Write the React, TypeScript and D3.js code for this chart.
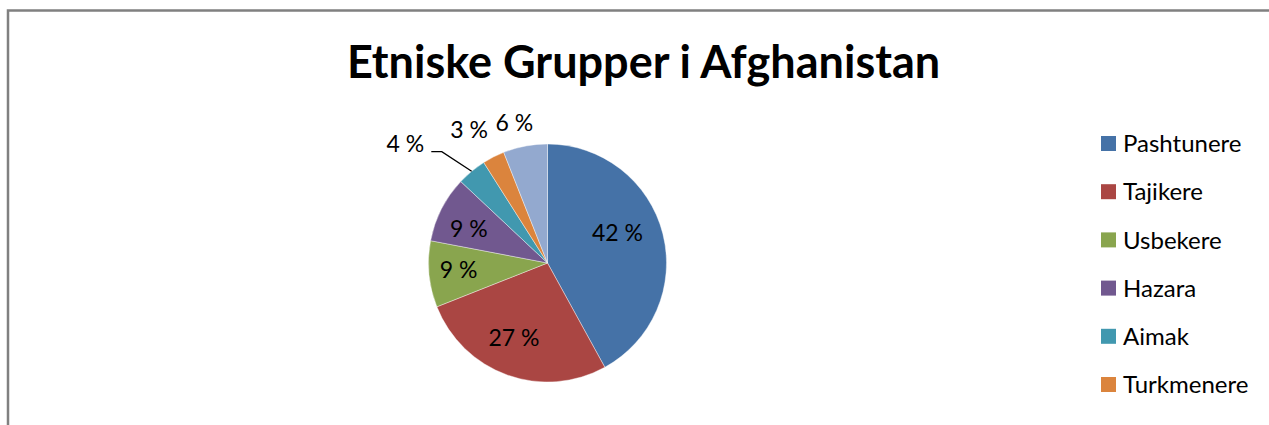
import { arc, pie } from "d3";

const groups = ["Pashtunere", "Tajikere", "Usbekere", "Hazara", "Aimak", "Turkmenere", "Andre"];
const shares = [42, 27, 9, 9, 4, 3, 6];
const colors = ["#4572A7", "#AA4643", "#89A54E", "#71588F", "#4198AF", "#DB843D", "#93A9CF"];

// label placement relative to each slice (radius factor, angle shift in degrees)
const labelRadius = [0.64, 0.69, 0.75, 0.72, 1.56, 1.3, 1.21];
const labelShift = [-8.8, 4.3, 0.9, -3.6, -10.4, -3.5, -2.5];
const leader = [false, false, false, false, true, false, false];

const W = 1269;
const H = 425;
const cx = 547.5;
const cy = 263;
const r = 119;
const font = "Lato, 'Open Sans', sans-serif";
const legendTop = 136;
const legendStep = 48.2;

type Row = { name: string; value: number; color: string };

export default function App() {
  const rows: Row[] = groups.map((name, i) => ({ name, value: shares[i], color: colors[i] }));
  const arcs = pie<Row>().value((d) => d.value).sort(null)(rows);
  const arcGen = arc<any>().innerRadius(0).outerRadius(r);

  const polar = (angle: number, rad: number) => [Math.sin(angle) * rad, -Math.cos(angle) * rad];

  // the legend runs past the bottom of the frame; only the entries that fit are drawn
  const legendRows = rows.filter((_, i) => legendTop + i * legendStep + 20 < H);

  return (
    <svg
      width={W}
      height={H}
      style={{ position: "absolute", left: 0, top: 0, background: "#fff" }}
    >
      <path d={`M8,${H + 5}V10.5H${W + 5}`} fill="none" stroke="#808080" strokeWidth={2.5} />
      <text
        x={643.5}
        y={78}
        textAnchor="middle"
        fontFamily={font}
        fontWeight="bold"
        fontSize={45}
        fill="#000"
      >
        Etniske Grupper i Afghanistan
      </text>
      <g transform={`translate(${cx},${cy})`}>
        {arcs.map((a, i) => (
          <path key={groups[i]} d={arcGen(a)!} fill={colors[i]} stroke="#fff" strokeWidth={0.4} />
        ))}
        {arcs.map((a, i) => {
          const mid = (a.startAngle + a.endAngle) / 2;
          const [lx, ly] = polar(mid + (labelShift[i] * Math.PI) / 180, r * labelRadius[i]);
          const [ex, ey] = polar(mid, r);
          return (
            <g key={"l" + groups[i]}>
              {leader[i] && (
                <polyline
                  points={`${lx + 26},${ly + 8} ${lx + 36.5},${ly + 8} ${ex},${ey}`}
                  fill="none"
                  stroke="#000"
                  strokeWidth={1.3}
                />
              )}
              <text
                x={lx}
                y={ly}
                dy="0.36em"
                textAnchor="middle"
                fontFamily={font}
                fontSize={23}
                fill="#000"
              >
                {`${a.data.value} %`}
              </text>
            </g>
          );
        })}
      </g>
      <g transform={`translate(1101,${legendTop})`}>
        {legendRows.map((d, i) => (
          <g key={"lg" + d.name} transform={`translate(0,${i * legendStep})`}>
            <rect width={15} height={15} fill={d.color} />
            <text x={22} y={7.5} dy="0.36em" fontFamily={font} fontSize={24} fill="#000">
              {d.name}
            </text>
          </g>
        ))}
      </g>
    </svg>
  );
}
